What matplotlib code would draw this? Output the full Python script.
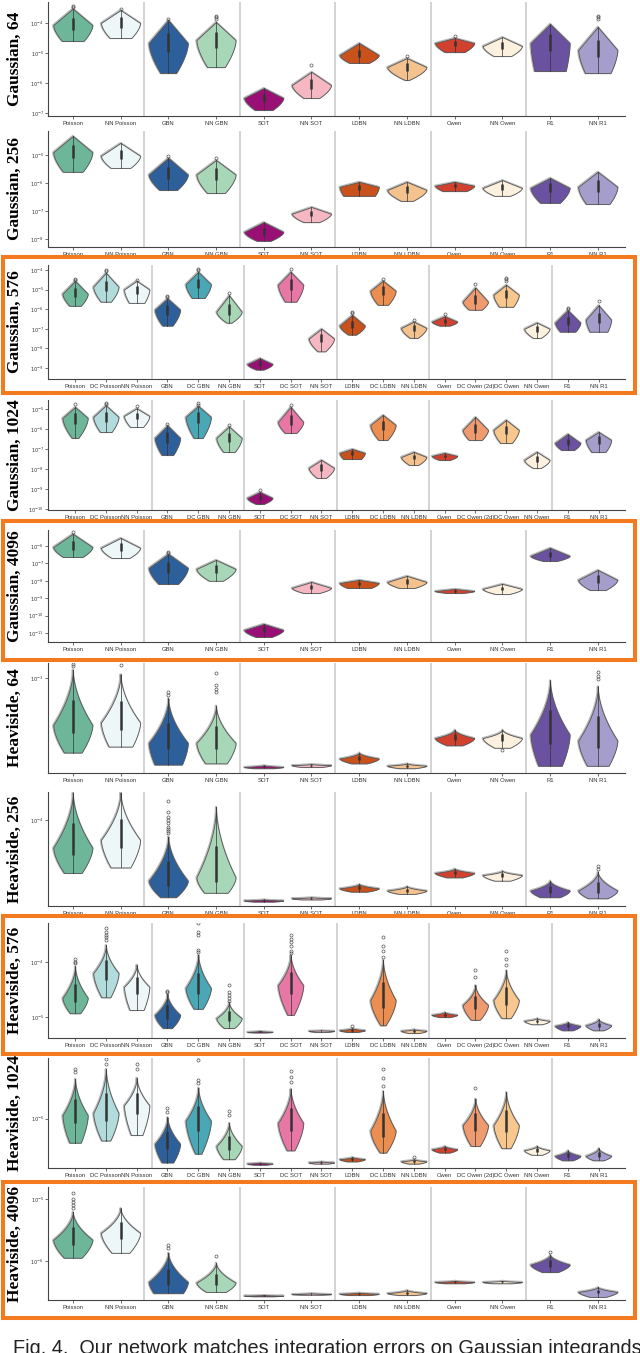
import numpy as np
import matplotlib.pyplot as plt
from matplotlib.patches import Rectangle
from matplotlib.ticker import FixedLocator, NullLocator

# method names on the x axis
short_methods = ['Poisson', 'NN Poisson', 'GBN', 'NN GBN', 'SOT', 'NN SOT',
                 'LDBN', 'NN LDBN', 'Owen', 'NN Owen', 'R1', 'NN R1']
long_methods = ['Poisson', 'DC Poisson', 'NN Poisson', 'GBN', 'DC GBN', 'NN GBN',
                'SOT', 'DC SOT', 'NN SOT', 'LDBN', 'DC LDBN', 'NN LDBN',
                'Owen', 'DC Owen (2d)', 'DC Owen', 'NN Owen', 'R1', 'NN R1']

colors = {
    'Poisson': '#6db69a', 'DC Poisson': '#b2dcdc', 'NN Poisson': '#eef7f8',
    'GBN': '#2d5f9a', 'DC GBN': '#4aa7b6', 'NN GBN': '#a7d7b7',
    'SOT': '#990f76', 'DC SOT': '#e877a6', 'NN SOT': '#f5b8c2',
    'LDBN': '#c8511c', 'DC LDBN': '#ec8e4f', 'NN LDBN': '#f3c28f',
    'Owen': '#d2412d', 'DC Owen (2d)': '#ef9a6f', 'DC Owen': '#f7c78e',
    'NN Owen': '#fcf1df', 'R1': '#6b52a0', 'NN R1': '#a59dcb',
}

# log10 error per violin: (min, mode, max, relative width at min)
gauss_64 = [(-4.60, -4.07, -3.52, .55), (-4.50, -4.00, -3.57, .55), (-5.67, -4.67, -3.90, .40),
            (-5.47, -4.57, -3.97, .45), (-6.90, -6.50, -6.17, .45), (-6.50, -6.07, -5.63, .40),
            (-5.33, -5.07, -4.67, .50), (-5.90, -5.47, -5.17, .10), (-4.97, -4.67, -4.50, .50),
            (-5.10, -4.77, -4.47, .45), (-5.60, -4.67, -4.03, .80), (-5.67, -4.90, -4.13, .65)]
gauss_256 = [(-5.60, -4.90, -4.32, .50), (-5.46, -5.03, -4.57, .50), (-6.25, -5.70, -5.10, .45),
             (-6.36, -5.70, -5.18, .45), (-8.07, -7.75, -7.40, .35), (-7.40, -7.10, -6.86, .40),
             (-6.46, -6.14, -5.96, .80), (-6.64, -6.25, -5.96, .30), (-6.29, -6.10, -5.96, .60),
             (-6.46, -6.18, -5.90, .40), (-6.71, -6.18, -5.82, .50), (-6.75, -6.14, -5.60, .60)]
gauss_576 = [(-5.83, -5.22, -4.56, .45), (-5.62, -4.86, -4.15, .40), (-5.68, -5.00, -4.56, .60),
             (-6.84, -6.03, -5.45, .40), (-5.43, -4.73, -4.10, .50), (-6.69, -6.13, -5.30, .20),
             (-9.08, -8.80, -8.50, .30), (-5.62, -4.76, -4.10, .45), (-8.15, -7.50, -7.00, .30),
             (-7.30, -6.84, -6.30, .30), (-5.78, -5.07, -4.55, .40), (-7.47, -6.96, -6.64, .30),
             (-6.84, -6.64, -6.36, .40), (-6.03, -5.62, -4.90, .50), (-5.88, -5.27, -4.76, .55),
             (-7.47, -7.00, -6.69, .30), (-7.15, -6.69, -6.05, .60), (-7.15, -6.54, -5.80, .70)]
gauss_1024 = [(-6.45, -5.45, -4.90, .25), (-6.15, -5.40, -4.82, .45), (-5.90, -5.35, -4.97, .50),
              (-7.30, -6.45, -5.82, .45), (-6.45, -5.40, -4.85, .35), (-7.15, -6.45, -5.88, .45),
              (-9.75, -9.45, -9.15, .30), (-6.20, -5.65, -4.90, .45), (-8.45, -7.95, -7.55, .35),
              (-7.50, -7.20, -7.00, .70), (-6.55, -5.80, -5.30, .35), (-7.80, -7.40, -7.15, .35),
              (-7.55, -7.35, -7.20, .40), (-6.55, -6.05, -5.40, .50), (-6.70, -6.05, -5.55, .45),
              (-7.95, -7.55, -7.15, .30), (-7.05, -6.70, -6.25, .50), (-7.15, -6.55, -6.15, .55)]
gauss_4096 = [(-6.63, -6.06, -5.30, .50), (-6.69, -6.11, -5.54, .45), (-8.18, -7.26, -6.45, .50),
              (-8.00, -7.32, -6.80, .35), (-11.23, -10.83, -10.48, .40), (-8.70, -8.41, -8.07, .40),
              (-8.41, -8.13, -7.95, .60), (-8.41, -8.07, -7.72, .40), (-8.70, -8.59, -8.47, .40),
              (-8.76, -8.47, -8.18, .35), (-6.86, -6.57, -6.11, .35), (-8.53, -7.95, -7.38, .40)]
heav_64 = [(-3.62, -3.39, -2.93, .45), (-3.57, -3.37, -2.97, .60), (-3.72, -3.54, -3.17, .70),
           (-3.71, -3.54, -3.23, .55), (-3.75, -3.74, -3.725, .50), (-3.74, -3.725, -3.715, .50),
           (-3.71, -3.67, -3.62, .40), (-3.75, -3.73, -3.71, .40), (-3.56, -3.50, -3.43, .40),
           (-3.58, -3.50, -3.43, .40), (-3.73, -3.47, -3.02, .60), (-3.73, -3.52, -3.07, .55)]
heav_256 = [(-4.48, -4.25, -3.75, .45), (-4.43, -4.18, -3.75, .50), (-4.70, -4.55, -4.15, .40),
            (-4.66, -4.52, -3.88, .60), (-4.74, -4.73, -4.72, .50), (-4.72, -4.71, -4.70, .50),
            (-4.65, -4.62, -4.58, .40), (-4.67, -4.64, -4.60, .40), (-4.52, -4.48, -4.44, .40),
            (-4.55, -4.50, -4.46, .40), (-4.70, -4.64, -4.55, .50), (-4.71, -4.64, -4.47, .50)]
heav_576 = [(-4.93, -4.65, -4.08, .40), (-4.64, -4.20, -3.69, .35), (-4.87, -4.45, -4.05, .55),
            (-5.20, -4.96, -4.58, .35), (-4.85, -4.47, -3.87, .35), (-5.20, -5.02, -4.73, .40),
            (-5.28, -5.27, -5.25, .50), (-4.96, -4.42, -3.87, .25), (-5.27, -5.25, -5.24, .50),
            (-5.27, -5.24, -5.20, .40), (-5.15, -4.69, -3.96, .20), (-5.29, -5.25, -5.22, .40),
            (-5.00, -4.96, -4.91, .40), (-5.05, -4.78, -4.42, .35), (-5.02, -4.69, -4.15, .35),
            (-5.13, -5.07, -5.02, .40), (-5.24, -5.16, -5.09, .40), (-5.24, -5.15, -5.04, .40)]
heav_1024 = [(-5.22, -4.97, -4.64, .45), (-5.20, -4.95, -4.55, .35), (-5.15, -4.88, -4.63, .45),
             (-5.40, -5.23, -4.99, .45), (-5.32, -5.02, -4.72, .25), (-5.37, -5.25, -5.04, .45),
             (-5.42, -5.41, -5.40, .50), (-5.29, -5.04, -4.73, .30), (-5.41, -5.40, -5.39, .50),
             (-5.39, -5.37, -5.35, .40), (-5.31, -5.11, -4.75, .25), (-5.41, -5.39, -5.37, .40),
             (-5.31, -5.28, -5.25, .40), (-5.25, -5.06, -4.82, .35), (-5.27, -5.06, -4.76, .35),
             (-5.33, -5.29, -5.25, .40), (-5.38, -5.34, -5.29, .40), (-5.38, -5.34, -5.27, .40)]
heav_4096 = [(-5.95, -5.66, -5.21, .45), (-5.87, -5.55, -5.15, .45), (-6.52, -6.34, -5.87, .75),
             (-6.50, -6.35, -6.03, .50), (-6.57, -6.56, -6.55, .50), (-6.545, -6.535, -6.52, .50),
             (-6.55, -6.53, -6.51, .50), (-6.55, -6.52, -6.47, .40), (-6.36, -6.34, -6.32, .50),
             (-6.36, -6.34, -6.32, .50), (-6.18, -6.06, -5.90, .40), (-6.58, -6.50, -6.42, .40)]

# outliers (log10) by violin index
gauss_64_out = {0: [-3.47, -3.44], 1: [-3.53], 2: [-3.87], 3: [-3.75, -3.8, -3.87],
                5: [-5.4], 7: [-5.1], 8: [-4.42], 11: [-3.75, -3.8, -3.86]}
gauss_256_out = {2: [-5.05], 3: [-5.12]}
gauss_576_out = {0: [-4.45, -4.5], 1: [-3.98, -4.05], 2: [-4.5], 3: [-5.35, -5.4],
                 4: [-3.95, -4.02], 5: [-5.2], 7: [-3.95], 9: [-6.15, -6.2], 10: [-4.45],
                 11: [-6.55], 12: [-6.27], 13: [-4.7], 14: [-4.4, -4.47, -4.55],
                 16: [-5.93, -5.98], 17: [-5.6]}
gauss_1024_out = {0: [-4.75], 1: [-4.72, -4.77], 2: [-4.85], 3: [-5.75], 4: [-4.72, -4.78],
                  5: [-5.8], 6: [-9.05], 7: [-4.78]}
gauss_4096_out = {0: [-5.2], 2: [-6.35, -6.4]}
heav_64_out = {0: [-2.88, -2.9], 1: [-2.89], 2: [-3.12, -3.14],
               3: [-2.96, -3.06, -3.09, -3.12], 9: [-3.6], 11: [-2.95, -2.98, -3.01]}
heav_256_out = {2: [-3.83, -3.93, -3.97, -4.0, -4.03, -4.06, -4.08, -4.1, -4.12],
                11: [-4.42, -4.44]}
heav_576_out = {0: [-3.95, -3.99, -4.02], 1: [-3.38, -3.45, -3.5, -3.55, -3.6],
                3: [-4.52, -4.55], 4: [-3.29, -3.45, -3.5, -3.78, -3.82],
                5: [-4.42, -4.55, -4.6, -4.65, -4.7], 7: [-3.5, -3.58, -3.63, -3.7, -3.8, -3.84],
                9: [-5.16], 10: [-3.55, -3.7, -3.8, -3.9], 13: [-4.15, -4.28],
                14: [-3.8, -3.95, -4.05]}
heav_1024_out = {0: [-4.55, -4.58], 1: [-4.38, -4.42, -4.46, -4.5], 2: [-4.5, -4.55],
                 3: [-4.9, -4.94], 4: [-4.4, -4.43, -4.47, -4.65, -4.68], 5: [-4.93, -4.97],
                 7: [-4.57, -4.62, -4.67], 10: [-4.55, -4.63, -4.7], 11: [-5.35], 13: [-4.72]}
heav_4096_out = {0: [-4.9, -5.0, -5.05, -5.1, -5.15], 2: [-5.75, -5.8], 3: [-5.92], 10: [-5.85]}

row_titles = ['Gaussian, 64', 'Gaussian, 256', 'Gaussian, 576', 'Gaussian, 1024', 'Gaussian, 4096',
              'Heaviside, 64', 'Heaviside, 256', 'Heaviside, 576', 'Heaviside, 1024', 'Heaviside, 4096']
row_data = [gauss_64, gauss_256, gauss_576, gauss_1024, gauss_4096,
            heav_64, heav_256, heav_576, heav_1024, heav_4096]
row_out = [gauss_64_out, gauss_256_out, gauss_576_out, gauss_1024_out, gauss_4096_out,
           heav_64_out, heav_256_out, heav_576_out, heav_1024_out, heav_4096_out]
row_ylim = [(-7.1, -3.3), (-8.29, -4.14), (-9.56, -3.75), (-10.05, -4.55), (-11.52, -5.08),
            (-3.79, -2.875), (-4.78, -3.745), (-5.38, -3.29), (-5.45, -4.45), (-6.63, -4.81)]

# layout in pixels (top, bottom) of each panel
W, H = 640, 1353
row_px = [(2, 116), (131, 247), (265, 379), (400, 510), (530, 642),
          (663, 773), (792, 906), (923, 1038), (1058, 1168), (1187, 1300)]
boxes_px = [(257, 393), (521, 660), (916, 1054), (1182, 1318)]
HALF = 0.41


def draw_violin(ax, x, lo, pk, hi, base, color, tail):
    ys = np.linspace(lo, hi, 150)
    u1 = np.clip((ys - lo) / max(pk - lo, 1e-9), 0, 1)
    u2 = np.clip((ys - pk) / max(hi - pk, 1e-9), 0, 1)
    w = np.where(ys <= pk, base + (1 - base) * (1 - (1 - u1) ** 1.6), (1 - u2) ** tail) * HALF
    ax.fill_betweenx(10 ** ys, x - w, x + w, facecolor='none', edgecolor='#b8b8b8', lw=1.6, zorder=2)
    ax.fill_betweenx(10 ** ys, x - w, x + w, facecolor=color, edgecolor='#555555', lw=0.6, zorder=3)
    q1 = pk - 0.3 * (pk - lo)
    q3 = pk + 0.45 * (hi - pk)
    ax.plot([x, x], [10 ** lo, 10 ** hi], color='#333333', lw=0.5, zorder=4)
    ax.plot([x, x], [10 ** q1, 10 ** q3], color='#333333', lw=1.8, zorder=4, solid_capstyle='butt')


fig = plt.figure(figsize=(W / 100, H / 100), dpi=100)

for r in range(10):
    top, bot = row_px[r]
    ax = fig.add_axes([48 / W, 1 - bot / H, (625 - 48) / W, (bot - top) / H])
    data = row_data[r]
    names = short_methods if len(data) == 12 else long_methods
    n = len(names)
    tail = 1.0 if r < 5 else 1.8
    for i, (lo, pk, hi, base) in enumerate(data):
        draw_violin(ax, i, lo, pk, hi, base, colors[names[i]], tail)
    for i, vals in row_out[r].items():
        ax.plot([i] * len(vals), 10 ** np.array(vals), 'o', ms=2.2, mfc='none',
                mec='#555555', mew=0.5, zorder=5)
    seps = [1.5, 3.5, 5.5, 7.5, 9.5] if n == 12 else [2.5, 5.5, 8.5, 11.5, 15.5]
    for s in seps:
        ax.axvline(s, color='#c8c8c8', lw=1.1, zorder=1)
    ax.set_yscale('log')
    y0, y1 = row_ylim[r]
    ax.set_ylim(10 ** y0, 10 ** y1)
    ax.set_xlim((-0.52, 11.57) if n == 12 else (-0.88, 17.86))
    exps = list(range(int(np.ceil(y0)), int(np.floor(y1)) + 1))
    ax.yaxis.set_major_locator(FixedLocator([10.0 ** k for k in exps]))
    ax.set_yticklabels(['$10^{%d}$' % k for k in exps])
    ax.yaxis.set_minor_locator(NullLocator())
    ax.set_xticks(range(n))
    ax.set_xticklabels(names, fontsize=4.2, family='Liberation Sans', color='#222222')
    ax.tick_params(axis='y', labelsize=3.6, length=2, width=0.5, pad=1, colors='#333333')
    ax.tick_params(axis='x', length=2, width=0.5, pad=1.5, colors='#333333')
    for side in ['top', 'right']:
        ax.spines[side].set_visible(False)
    for side in ['left', 'bottom']:
        ax.spines[side].set_color('#444444')
        ax.spines[side].set_linewidth(0.8)
    fig.text(15 / W, 1 - (top + bot) / 2 / H, row_titles[r], rotation=90, ha='center',
             va='center', fontsize=12.5, family='Liberation Serif', weight='bold')

for top, bot in boxes_px:
    fig.add_artist(Rectangle((2.5 / W, 1 - bot / H), 632 / W, (bot - top) / H,
                             transform=fig.transFigure, fill=False,
                             edgecolor='#f47a20', lw=2.9))

fig.text(13 / W, 1 - 1338.5 / H, 'Fig. 4.  Our network matches integration errors on Gaussian integrands',
         ha='left', va='top', fontsize=14.3, family='Liberation Sans', color='#222222')

fig.savefig('out.png', dpi=100)
